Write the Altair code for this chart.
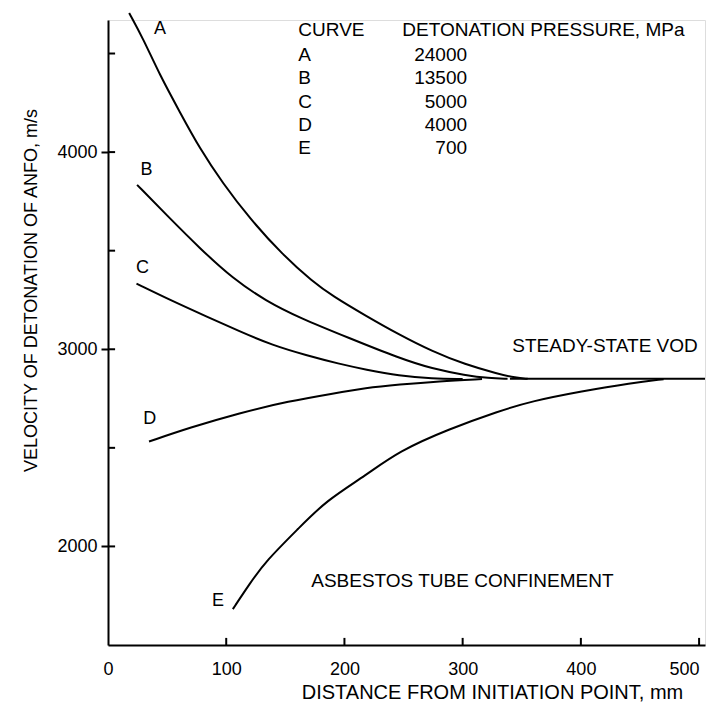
import altair as alt
import pandas as pd

FONT = "Liberation Sans"

# ---- curve data (distance mm, VOD m/s) ----
a_x = [17.9, 29.7, 43.8, 60.6, 77.5, 97.1, 119.6, 147.7, 173.0, 190.0, 218.0, 246.0, 274.0, 302.0, 330.0, 345.0, 355.0]
a_y = [4706, 4576, 4391, 4205, 4019, 3842, 3665, 3479, 3344, 3270, 3170, 3075, 2990, 2923, 2875, 2855, 2850]

b_x = [24.6, 49.4, 77.5, 105.6, 133.7, 161.8, 204.0, 246.2, 274.2, 302.4, 322.0, 338.0]
b_y = [3834, 3682, 3513, 3358, 3245, 3160, 3057, 2955, 2901, 2868, 2853, 2850]

c_x = [24.1, 55.0, 83.1, 111.2, 139.3, 167.5, 195.5, 218.0, 246.1, 274.2, 300.0]
c_y = [3333, 3243, 3167, 3091, 3020, 2970, 2926, 2897, 2865, 2851, 2849]

d_x = [34.7, 69.0, 111.2, 153.4, 190.0, 218.0, 246.1, 279.9, 316.4]
d_y = [2532, 2602, 2677, 2737, 2775, 2804, 2821, 2838, 2849]

e_x = [105.6, 119.6, 133.7, 161.8, 184.3, 218.0, 246.2, 288.3, 330.5, 358.5, 400.7, 442.8, 470.0]
e_y = [1682, 1809, 1927, 2095, 2231, 2360, 2484, 2595, 2686, 2737, 2787, 2829, 2848]

steady_x = [340, 505]
steady_y = [2850, 2850]

# legend table
curve_names = ["A", "B", "C", "D", "E"]
pressures = ["24000", "13500", "5000", "4000", "700"]

# axis ticks
x_ticks = [0, 100, 200, 300, 400, 500]
y_labels = [2000, 3000, 4000]
y_minor = [2000, 2500, 3000, 3500, 4000, 4500]

X_DOMAIN = [0, 505]
Y_DOMAIN = [1500, 4670]

rows = []
for name, xs_, ys_ in [("A", a_x, a_y), ("B", b_x, b_y), ("C", c_x, c_y),
                       ("D", d_x, d_y), ("E", e_x, e_y), ("S", steady_x, steady_y)]:
    for i, (xv, yv) in enumerate(zip(xs_, ys_)):
        rows.append({"curve": name, "order": i, "dist": xv, "vod": yv})
curves_df = pd.DataFrame(rows)

xs = alt.Scale(domain=X_DOMAIN, nice=False, zero=False)
ys = alt.Scale(domain=Y_DOMAIN, nice=False, zero=False)

x_axis = alt.Axis(
    values=x_ticks, ticks=False, tickSize=0, labelPadding=15, grid=False,
    labelFontSize=18, labelFont=FONT, labelColor="black", format="d",
    labelAlign={"condition": {"test": "datum.value == 500", "value": "right"}, "value": "center"},
    domainColor="black", domainWidth=2,
    title="DISTANCE FROM INITIATION POINT, mm", titleFont=FONT, titleFontSize=20,
    titleFontWeight="normal", titleColor="black", titleX=384, titleY=53,
    titleAlign="center", titleBaseline="alphabetic",
)
y_axis = alt.Axis(
    values=y_labels, ticks=True, tickSize=7, tickWidth=2, tickColor="black", labelPadding=4,
    grid=False, labelFontSize=18, labelFont=FONT, labelColor="black", format="d",
    domainColor="black", domainWidth=2,
    title="VELOCITY OF DETONATION OF ANFO, m/s", titleFont=FONT, titleFontSize=18,
    titleFontWeight="normal", titleColor="black", titleX=-72, titleY=270,
    titleAngle=270, titleAlign="center", titleBaseline="alphabetic",
)

lines = alt.Chart(curves_df).mark_line(
    color="black", strokeWidth=2, interpolate="basis"
).encode(
    x=alt.X("dist:Q", scale=xs, axis=x_axis),
    y=alt.Y("vod:Q", scale=ys, axis=y_axis),
    detail="curve:N",
    order="order:Q",
)

# inward tick marks (7 px long, expressed in data units of the other axis)
x_tick_df = pd.DataFrame({"tx": x_ticks[1:], "ya": [Y_DOMAIN[0]] * 5, "yb": [Y_DOMAIN[0] + 36] * 5})
xt = alt.Chart(x_tick_df).mark_rule(color="black", strokeWidth=2).encode(
    x=alt.X("tx:Q", scale=xs), y=alt.Y("ya:Q", scale=ys), y2="yb:Q"
)
y_tick_df = pd.DataFrame({"ty": y_minor, "xa": [0.0] * 6, "xb": [6.0] * 6})
yt = alt.Chart(y_tick_df).mark_rule(color="black", strokeWidth=2).encode(
    y=alt.Y("ty:Q", scale=ys), x=alt.X("xa:Q", scale=xs), x2="xb:Q"
)

# curve letters
letters_df = pd.DataFrame({
    "txt": curve_names,
    "dist": [43.9, 32.6, 29.2, 35.3, 93.0],
    "vod": [4626, 3910, 3412, 2644, 1724],
})
letters = alt.Chart(letters_df).mark_text(
    font=FONT, fontSize=18, color="black", align="center", baseline="middle"
).encode(x=alt.X("dist:Q", scale=xs), y=alt.Y("vod:Q", scale=ys), text="txt:N")

# annotations
notes_df = pd.DataFrame({
    "txt": ["STEADY-STATE VOD", "ASBESTOS TUBE CONFINEMENT", "CURVE", "DETONATION PRESSURE, MPa"],
    "dist": [342.0, 171.9, 161.0, 248.9],
    "vod": [3015, 1825, 4619, 4619],
})
notes = alt.Chart(notes_df).mark_text(
    font=FONT, fontSize=19, color="black", align="left", baseline="middle"
).encode(x=alt.X("dist:Q", scale=xs), y=alt.Y("vod:Q", scale=ys), text="txt:N")

row_vod = [4492 - i * 118 for i in range(len(curve_names))]
leg_names = alt.Chart(pd.DataFrame({"txt": curve_names, "vod": row_vod, "dist": [161.0] * 5})).mark_text(
    font=FONT, fontSize=19, color="black", align="left", baseline="middle"
).encode(x=alt.X("dist:Q", scale=xs), y=alt.Y("vod:Q", scale=ys), text="txt:N")
leg_vals = alt.Chart(pd.DataFrame({"txt": pressures, "vod": row_vod, "dist": [303.7] * 5})).mark_text(
    font=FONT, fontSize=19, color="black", align="right", baseline="middle"
).encode(x=alt.X("dist:Q", scale=xs), y=alt.Y("vod:Q", scale=ys), text="txt:N")

chart = alt.layer(lines, xt, yt, letters, notes, leg_names, leg_vals).properties(
    width=597, height=625,
    padding={"left": 100, "top": 12, "right": 3, "bottom": 59},
    autosize=alt.AutoSizeParams(type="none"),
).configure_view(stroke=None).configure(background="white")

chart.save("out.html", embed_options={"renderer": "svg", "actions": False})
